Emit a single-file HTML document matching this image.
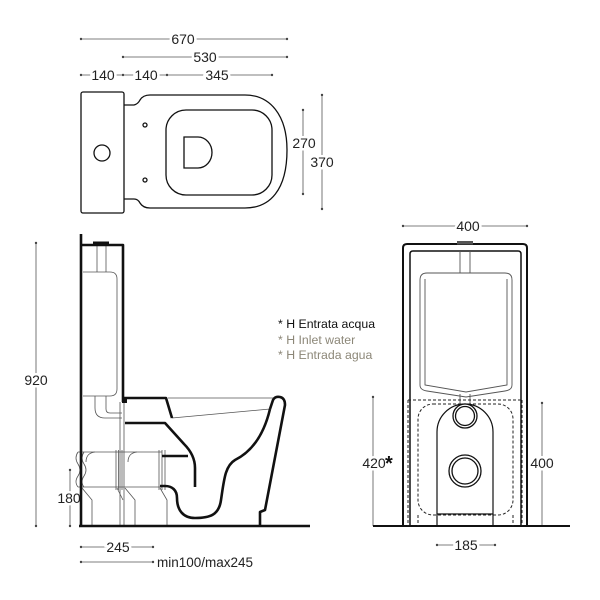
<!DOCTYPE html>
<html><head><meta charset="utf-8"><style>
html,body{margin:0;padding:0;background:#fff;}
svg{display:block;}
text{font-family:"Liberation Sans",Arial,sans-serif;}
</style></head><body>
<svg width="600" height="600" viewBox="0 0 600 600" xmlns="http://www.w3.org/2000/svg">
<rect width="600" height="600" fill="#fff"/>

<!-- ===== DIMENSION LINES (thin) ===== -->
<g stroke="#555" stroke-width="0.8" fill="none">
  <!-- top view -->
  <line x1="81" y1="39" x2="287" y2="39"/>
  <line x1="123" y1="57" x2="287" y2="57"/>
  <line x1="81" y1="75" x2="272" y2="75"/>
  <line x1="303" y1="110" x2="303" y2="194"/>
  <line x1="322" y1="95" x2="322" y2="209"/>
  <!-- side view -->
  <line x1="36" y1="243" x2="36" y2="526"/>
  <line x1="70" y1="470" x2="70" y2="526"/>
  <line x1="81" y1="547" x2="153" y2="547"/>
  <line x1="81" y1="562" x2="153" y2="562"/>
  <!-- front view -->
  <line x1="403" y1="226" x2="527" y2="226"/>
  <line x1="373" y1="397" x2="373" y2="526"/>
  <line x1="542" y1="403" x2="542" y2="526"/>
  <line x1="437" y1="545" x2="495" y2="545"/>
</g>
<g fill="#444">
  <circle cx="81" cy="39" r="1.2"/><circle cx="287" cy="39" r="1.2"/>
  <circle cx="123" cy="57" r="1.2"/><circle cx="287" cy="57" r="1.2"/>
  <circle cx="81" cy="75" r="1.2"/><circle cx="123" cy="75" r="1.2"/><circle cx="167" cy="75" r="1.2"/><circle cx="272" cy="75" r="1.2"/>
  <circle cx="303" cy="110" r="1.2"/><circle cx="303" cy="194" r="1.2"/>
  <circle cx="322" cy="95" r="1.2"/><circle cx="322" cy="209" r="1.2"/>
  <circle cx="36" cy="243" r="1.2"/><circle cx="36" cy="526" r="1.2"/>
  <circle cx="70" cy="470" r="1.2"/><circle cx="70" cy="526" r="1.2"/>
  <circle cx="81" cy="547" r="1.2"/><circle cx="153" cy="547" r="1.2"/>
  <circle cx="81" cy="562" r="1.2"/><circle cx="153" cy="562" r="1.2"/>
  <circle cx="403" cy="226" r="1.2"/><circle cx="527" cy="226" r="1.2"/>
  <circle cx="373" cy="397" r="1.2"/><circle cx="542" cy="403" r="1.2"/>
  <circle cx="437" cy="545" r="1.2"/><circle cx="495" cy="545" r="1.2"/>
</g>

<!-- dimension text -->
<g font-size="14" fill="#222" text-anchor="middle" stroke="#fff" stroke-width="5" paint-order="stroke">
  <text x="183" y="44">670</text>
  <text x="205" y="62">530</text>
  <text x="103" y="80">140</text>
  <text x="146" y="80">140</text>
  <text x="217" y="80">345</text>
  <text x="304" y="148">270</text>
  <text x="322" y="167">370</text>
  <text x="36" y="385">920</text>
  <text x="69" y="503">180</text>
  <text x="118" y="552">245</text>
  <text x="468" y="231">400</text>
  <text x="374" y="468">420</text>
  <text x="542" y="468">400</text>
  <text x="466" y="550">185</text>
</g>
<text x="157" y="567" font-size="13.5" fill="#222">min100/max245</text>
<text x="385" y="470" font-size="20" font-weight="bold" fill="#111">*</text>

<!-- legend -->
<g font-size="12.3">
  <text x="278" y="328" fill="#111">* H Entrata acqua</text>
  <text x="278" y="344" fill="#8c8778">* H Inlet water</text>
  <text x="278" y="359" fill="#8c8778">* H Entrada agua</text>
</g>

<!-- ===== TOP VIEW ===== -->
<g stroke="#111" stroke-width="1.3" fill="none">
  <rect x="81" y="92" width="43" height="121" rx="2"/>
  <circle cx="102" cy="153" r="8"/>
  <path d="M124 105 L134 105 Q138 104 140 100 Q143 95 150 95 L245 95 C270 95 287 115 287 150 C287 190 270 208 245 208 L150 208 Q143 208 140 203 Q138 199 134 199 L124 199"/>
  <rect x="166" y="110" width="106" height="85" rx="20"/>
  <path d="M184 137 L198 137 A14 15.5 0 0 1 198 168 L184 168 Z"/>
  <circle cx="145" cy="125" r="2"/>
  <circle cx="145" cy="180" r="2"/>
</g>

<!-- ===== SIDE VIEW ===== -->
<!-- thin details -->
<g stroke="#555" stroke-width="0.8" fill="none">
  <path d="M83 272 L110 272 Q117 272 117 279 L117 389 Q117 396 110 396 L83 396"/>
  <line x1="97" y1="245" x2="97" y2="272"/>
  <line x1="106" y1="245" x2="106" y2="272"/>
  <path d="M95 396 L95 408 Q95 418 105 418 L122 418"/>
  <path d="M106 396 L106 409 Q106 413 110 413 L122 413"/>
  <line x1="120" y1="402" x2="120" y2="526"/>
  <line x1="124" y1="402" x2="124" y2="526"/>
  <!-- pipe -->
  <line x1="78" y1="452" x2="162" y2="452"/>
  <line x1="78" y1="487" x2="162" y2="487"/>
  <path d="M78 452 Q74 458 78 464 Q82 470 78 476 Q74 482 78 487"/>
  <path d="M84 452 Q80 458 84 464 Q88 470 84 476 Q80 482 84 487"/>
  <path d="M95 452 Q86 453 86 462"/>
  <path d="M137 452 Q128 453 128 462"/>
  <line x1="116" y1="450" x2="116" y2="490"/>
  <line x1="118.5" y1="450" x2="118.5" y2="490"/>
  <line x1="122" y1="450" x2="122" y2="490"/>
  <line x1="159" y1="450" x2="159" y2="490"/>
  <line x1="162" y1="450" x2="162" y2="490"/>
  <line x1="165" y1="450" x2="165" y2="490"/>
  <path d="M82 488 L92 500 L92 526"/>
  <path d="M117 488 L123 500"/>
  <path d="M125 488 L135 500 L135 526"/>
  <path d="M160 488 L167 500 L167 526"/>
  <line x1="168" y1="398" x2="276" y2="398"/>
  <line x1="172" y1="418" x2="270" y2="409"/>
</g>
<!-- thick outlines -->
<g stroke="#111" stroke-width="2.6" fill="none" stroke-linejoin="round">
  <line x1="81" y1="234" x2="81" y2="527"/>
  <path d="M81 245 L123 245 L123 402"/>
  <line x1="79" y1="526" x2="310" y2="526"/>
  <path d="M123 398 L166 398 L172 418"/>
  <path d="M270 409 L273 400 Q275 396 280 397 Q285 398 285 405 L265 510 L260 512 L260 526"/>
  <path d="M270 409 C265 430 255 450 235 460 C225 466 224 480 221 500 C219 515 210 518 195 518 C183 518 177 510 177 498 C177 490 172 486 165 486 L160 486"/>
  <path d="M125 423 L165 423 L184 444 Q195 455 195 468 L195 487"/>
  <line x1="162" y1="456" x2="188" y2="456"/>
</g>
<rect x="93" y="241.5" width="16" height="3.5" fill="#111"/>
<rect x="122" y="397" width="5" height="6" fill="#111"/>

<!-- ===== FRONT VIEW ===== -->
<g stroke="#111" fill="none">
  <path d="M403 526 L403 248 Q403 244 407 244 L523 244 Q527 244 527 248 L527 526" stroke-width="2"/>
  <path d="M410 526 L410 254 Q410 251 413 251 L518 251 Q521 251 521 254 L521 526" stroke-width="1.5"/>
  <line x1="373" y1="526" x2="570" y2="526" stroke-width="2"/>
</g>
<rect x="457" y="241" width="16" height="3.5" fill="#555"/>
<g stroke="#555" stroke-width="0.9" fill="none">
  <line x1="460" y1="251" x2="460" y2="273"/>
  <line x1="470" y1="251" x2="470" y2="273"/>
  <line x1="460" y1="394" x2="460" y2="404"/>
  <line x1="470" y1="394" x2="470" y2="404"/>
  <path d="M420 385 L420 280 Q420 273 427 273 L505 273 Q512 273 512 280 L512 385 Q512 390 505 391 L466 397 L427 391 Q420 390 420 385 Z"/>
  <path d="M425 279 L425 385 L466 392 L507 385 L507 279"/>
</g>
<g stroke="#222" stroke-width="1" fill="none" stroke-dasharray="3,2">
  <line x1="408" y1="400" x2="522" y2="400"/>
  <line x1="408" y1="400" x2="408" y2="526"/>
  <line x1="522" y1="400" x2="522" y2="526"/>
  <rect x="418" y="404" width="95" height="111" rx="15"/>
  <line x1="418" y1="515" x2="418" y2="526"/>
  <line x1="513" y1="515" x2="513" y2="526"/>
</g>
<g stroke="#111" stroke-width="1.2" fill="none">
  <path d="M437 526 L437 432 A28 28 0 0 1 493 432 L493 526"/>
  <line x1="437" y1="514" x2="493" y2="514"/>
</g>
<g stroke="#111" stroke-width="1.3" fill="#fff">
  <circle cx="465" cy="416" r="12"/>
  <circle cx="465" cy="416" r="9.5"/>
  <circle cx="465" cy="471" r="16"/>
  <circle cx="465" cy="471" r="13"/>
</g>
</svg>
</body></html>
